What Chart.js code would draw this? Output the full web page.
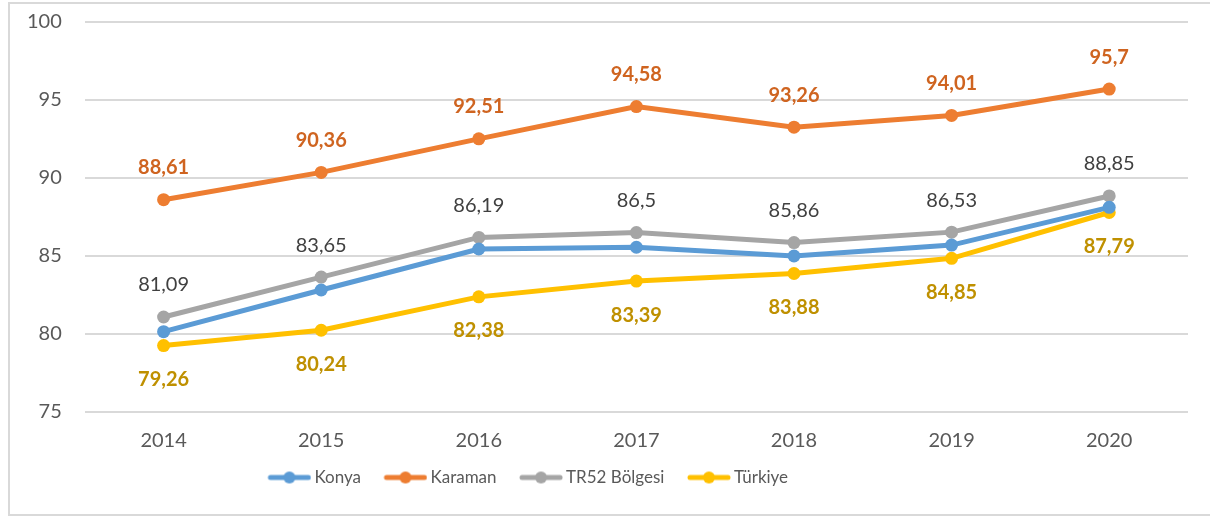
<!DOCTYPE html>
<html>
<head>
<meta charset="utf-8">
<script src="https://cdn.jsdelivr.net/npm/chart.js@4.4.1/dist/chart.umd.min.js"></script>
<style>
  html, body { margin: 0; padding: 0; background: #fff; overflow: hidden; }
  #frame {
    position: absolute; left: 8px; top: 2px;
    width: 1200px; height: 510px;
    border: 2px solid #d9d9d9;
  }
  #frame canvas { display: block; }
</style>
</head>
<body>
<div id="frame"><canvas id="rates"></canvas></div>
<script>
const years = ['2014', '2015', '2016', '2017', '2018', '2019', '2020'];
const konya = [80.15, 82.82, 85.45, 85.56, 85.0, 85.7, 88.12];
const karaman = [88.61, 90.36, 92.51, 94.58, 93.26, 94.01, 95.7];
const tr52 = [81.09, 83.65, 86.19, 86.5, 85.86, 86.53, 88.85];
const turkiye = [79.26, 80.24, 82.38, 83.39, 83.88, 84.85, 87.79];
const yTicks = [75, 80, 85, 90, 95, 100];

const FONT = 'Lato, "Open Sans", sans-serif';
const LEGEND_SHIFT = { x: -86, y: -11 };

// line-with-dot swatch for the legend; blank space on the left so the
// visible part sits right next to the label text
function swatch(color) {
  const c = document.createElement('canvas');
  c.width = 62; c.height = 14;
  const g = c.getContext('2d');
  const x0 = c.width - 44;
  g.strokeStyle = color; g.lineWidth = 5; g.lineCap = 'round';
  g.beginPath(); g.moveTo(x0 + 3, 7); g.lineTo(x0 + 41, 7); g.stroke();
  g.fillStyle = color;
  g.beginPath(); g.arc(x0 + 22, 7, 6, 0, Math.PI * 2); g.fill();
  return c;
}

function series(label, data, color, extra) {
  return Object.assign({
    label, data,
    borderColor: color, backgroundColor: color,
    borderWidth: 5, pointRadius: 6.5, pointHoverRadius: 6.5,
    pointBorderWidth: 0, tension: 0,
    swatch: swatch(color)
  }, extra || {});
}

// value labels above/below the points
const valueLabels = {
  id: 'valueLabels',
  afterDatasetsDraw(chart) {
    const ctx = chart.ctx;
    chart.data.datasets.forEach((ds, i) => {
      if (!ds.labelColor) return;
      const meta = chart.getDatasetMeta(i);
      ctx.save();
      ctx.fillStyle = ds.labelColor;
      ctx.font = (ds.labelBold ? 'bold ' : '') + '20px ' + FONT;
      ctx.textAlign = 'center';
      ctx.textBaseline = 'middle';
      meta.data.forEach((pt, j) => {
        const txt = String(ds.data[j]).replace('.', ',');
        ctx.fillText(txt, pt.x, pt.y + ds.labelOffset);
      });
      ctx.restore();
    });
  }
};

// nudge the legend off-centre
const legendShift = {
  id: 'legendShift',
  afterLayout(chart) {
    const lg = chart.legend;
    lg.left += LEGEND_SHIFT.x; lg.right += LEGEND_SHIFT.x;
    lg.top += LEGEND_SHIFT.y; lg.bottom += LEGEND_SHIFT.y;
  }
};

new Chart(document.getElementById('rates'), {
  type: 'line',
  data: {
    labels: years,
    datasets: [
      series('Konya', konya, '#5b9bd5'),
      series('Karaman', karaman, '#ed7d31', { labelColor: '#cf6420', labelBold: true, labelOffset: -32 }),
      series('TR52 Bölgesi', tr52, '#a5a5a5', { labelColor: '#404040', labelBold: false, labelOffset: -32 }),
      series('Türkiye', turkiye, '#ffc000', { labelColor: '#bf9000', labelBold: true, labelOffset: 34 })
    ]
  },
  options: {
    responsive: true,
    maintainAspectRatio: false,
    animation: false,
    layout: { padding: { top: 18, right: 22, left: 17, bottom: 7 } },
    scales: {
      x: {
        offset: true,
        grid: { display: false, drawTicks: false },
        border: { display: false },
        ticks: { color: '#595959', font: { family: FONT, size: 20 }, padding: 17 }
      },
      y: {
        min: 75, max: 100,
        afterBuildTicks(axis) { axis.ticks = yTicks.map(v => ({ value: v })); },
        // invisible tick marks give the gap between labels and gridlines
        grid: { color: '#d9d9d9', lineWidth: 2, drawTicks: true, tickLength: 23, tickColor: 'rgba(0,0,0,0)' },
        border: { display: false },
        ticks: { color: '#595959', font: { family: FONT, size: 20 }, padding: 0 }
      }
    },
    plugins: {
      tooltip: { enabled: false },
      legend: {
        position: 'bottom',
        labels: {
          usePointStyle: true,
          pointStyleWidth: 51,
          padding: 10,
          color: '#595959',
          font: { family: FONT, size: 17 },
          generateLabels(chart) {
            return Chart.defaults.plugins.legend.labels.generateLabels(chart).map(item => {
              item.pointStyle = chart.data.datasets[item.datasetIndex].swatch;
              return item;
            });
          }
        }
      }
    }
  },
  plugins: [valueLabels, legendShift]
});
</script>
</body>
</html>
